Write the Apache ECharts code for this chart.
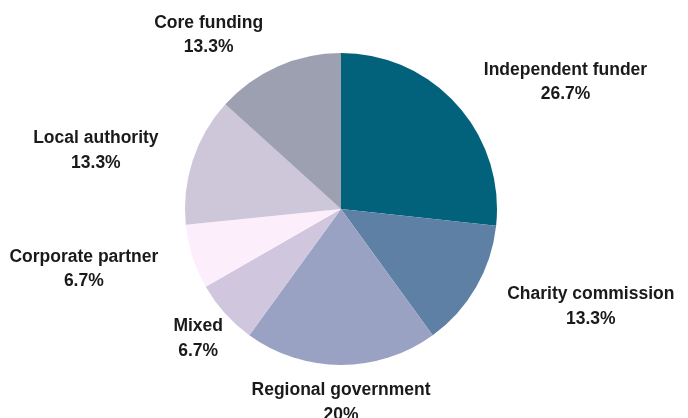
<!DOCTYPE html>
<html>
<head>
<meta charset="utf-8">
<title>Funding sources</title>
<script src="https://cdn.jsdelivr.net/npm/echarts@6/dist/echarts.min.js"></script>
<style>
  html, body { margin: 0; padding: 0; background: #ffffff; }
  #chart { width: 688px; height: 418px; }
</style>
</head>
<body>
<div id="chart"></div>
<script>
// Share of funding by source (percent), clockwise from 12 o'clock
const categories = [
  'Independent funder',
  'Charity commission',
  'Regional government',
  'Mixed',
  'Corporate partner',
  'Local authority',
  'Core funding'
];
const shares = [26.7, 13.3, 20, 6.7, 6.7, 13.3, 13.3];

const sliceColors = ['#02627c', '#5e80a5', '#9aa2c4', '#d0c7de', '#fdeefc', '#cdc7d9', '#9da0b1'];

// Pie geometry
const CX = 341, CY = 209, RADIUS = 156, LABEL_RADIUS = 192;
// Labels that sit centred on their anchor point instead of beside it
const centredLabels = ['Mixed'];

const total = shares.reduce((a, b) => a + b, 0);
const midAngles = [];
let acc = 0;
shares.forEach(v => {
  midAngles.push((acc + v / 2) / total * Math.PI * 2);
  acc += v;
});

const FONT = 'Liberation Sans, Arial, sans-serif';
const textStyle = { align: 'center', fontFamily: FONT, fontWeight: 'bold', fontSize: 17.5, color: '#1a1a1a', lineHeight: 24.5 };

const chart = echarts.init(document.getElementById('chart'), null, { renderer: 'canvas' });

chart.setOption({
  animation: false,
  backgroundColor: '#ffffff',
  series: [{
    type: 'pie',
    center: [CX, CY],
    radius: RADIUS,
    startAngle: 90,
    clockwise: true,
    avoidLabelOverlap: false,
    data: categories.map((name, i) => ({
      name: name,
      value: shares[i],
      itemStyle: { color: sliceColors[i] }
    })),
    itemStyle: { borderWidth: 0 },
    emphasis: { disabled: true },
    labelLine: { show: false },
    label: {
      show: true,
      position: 'outside',
      formatter: p => '{n|' + p.name + '}\n{v|' + p.value + '%}',
      fontFamily: FONT,
      fontWeight: 'bold',
      fontSize: 17.5,
      color: '#1a1a1a',
      lineHeight: 24.5,
      rich: { n: textStyle, v: textStyle }
    },
    labelLayout: params => {
      const i = params.dataIndex;
      const a = midAngles[i];
      const s = Math.sin(a), c = Math.cos(a);
      let align = s > 0.05 ? 'left' : (s < -0.05 ? 'right' : 'center');
      if (centredLabels.indexOf(categories[i]) >= 0) align = 'center';
      return {
        x: CX + LABEL_RADIUS * s,
        y: CY - LABEL_RADIUS * c + 1.5,
        align: align,
        verticalAlign: 'middle'
      };
    }
  }]
});
</script>
</body>
</html>
